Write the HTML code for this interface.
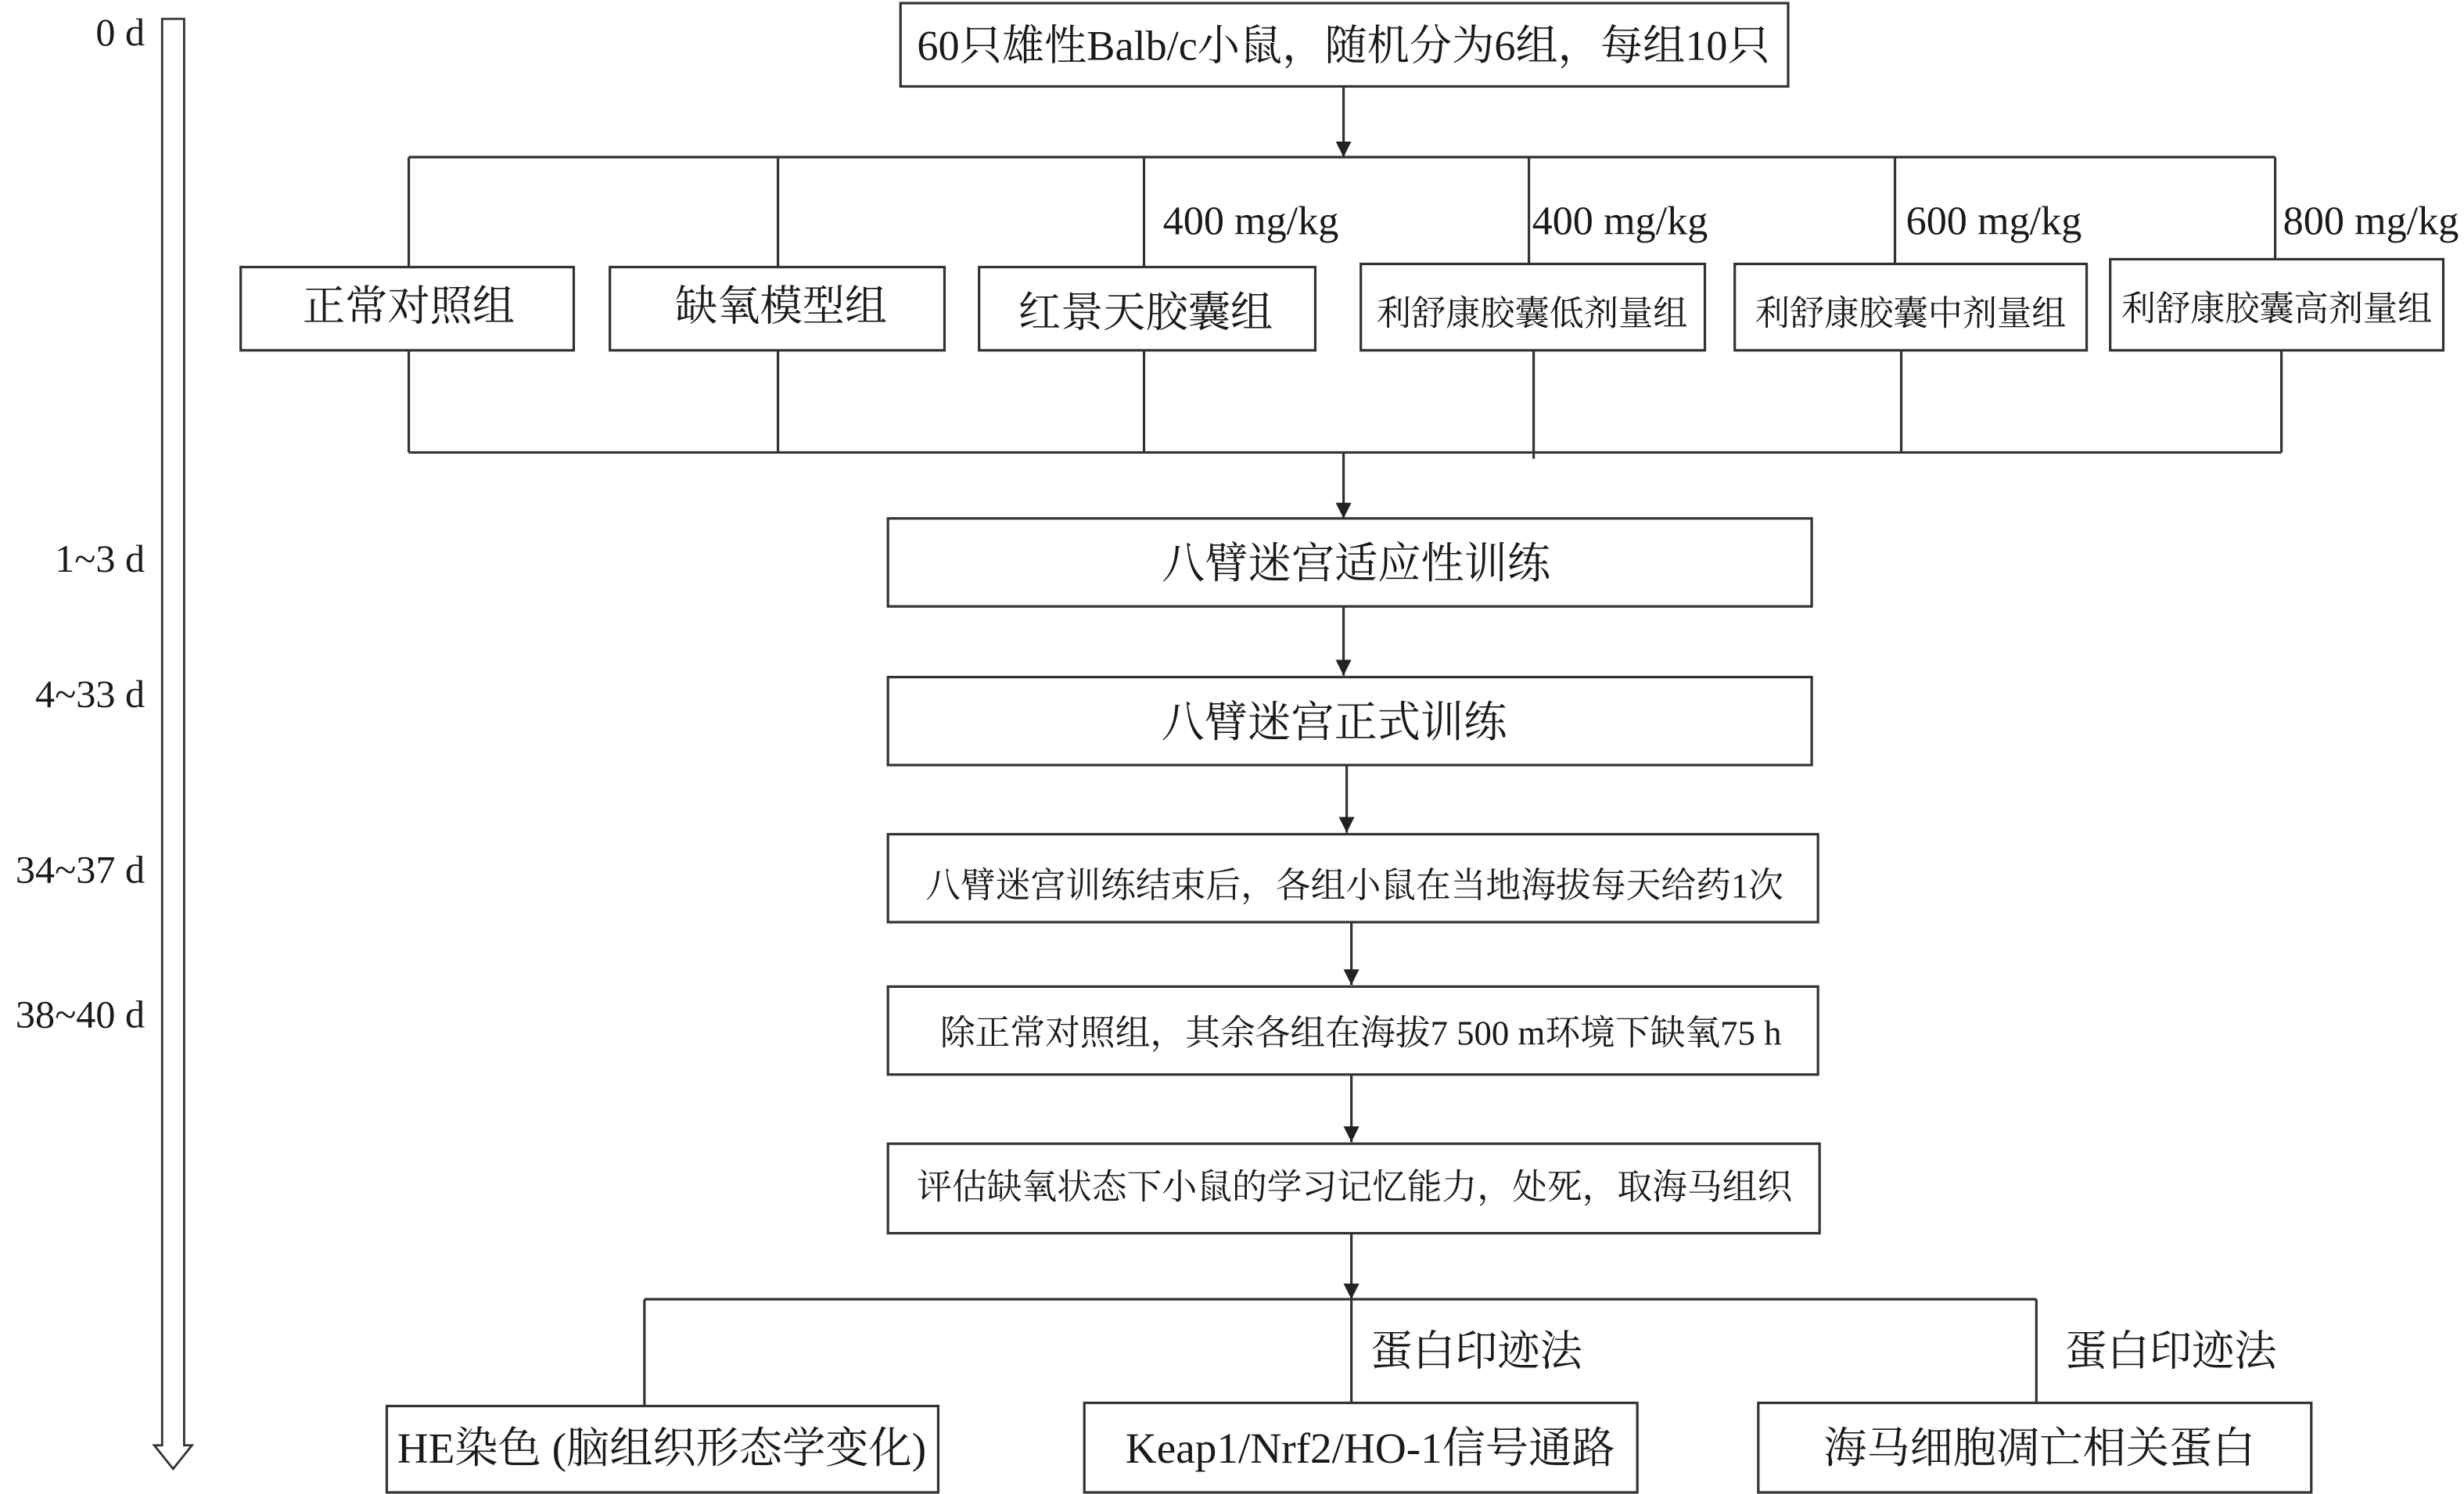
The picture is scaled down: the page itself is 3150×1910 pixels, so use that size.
<!DOCTYPE html>
<html><head><meta charset="utf-8"><style>
html,body{margin:0;padding:0;background:#fff;}
svg{display:block;}
text{font-family:"Liberation Serif","Noto Serif CJK SC",serif;fill:#1a1a1a;}
</style></head><body>
<svg width="3150" height="1910" viewBox="0 0 1568 951" xmlns="http://www.w3.org/2000/svg">
<defs><marker id="a" markerWidth="10" markerHeight="10" refX="10" refY="5" orient="auto" markerUnits="userSpaceOnUse"><path d="M0,0 L10,5 L0,10 Z" fill="#222"/></marker></defs>
<g stroke="#333" stroke-width="1.6" fill="none">
<path d="M103,12 L117,12 L117,920 L122,920 L110,935 L98,920 L103,920 Z" stroke-width="1.4"/>
<rect x="573" y="2" width="565" height="53"/>
<line x1="855" y1="55" x2="855" y2="100" marker-end="url(#a)"/>
<line x1="260" y1="100" x2="1448" y2="100"/>
<line x1="260" y1="100" x2="260" y2="170"/>
<line x1="495" y1="100" x2="495" y2="170"/>
<line x1="728" y1="100" x2="728" y2="170"/>
<line x1="973" y1="100" x2="973" y2="168"/>
<line x1="1206" y1="100" x2="1206" y2="168"/>
<line x1="1448" y1="100" x2="1448" y2="165"/>
<rect x="153" y="170" width="212" height="53"/>
<rect x="388" y="170" width="213" height="53"/>
<rect x="623" y="170" width="214" height="53"/>
<rect x="866" y="168" width="219" height="55"/>
<rect x="1104" y="168" width="224" height="55"/>
<rect x="1343" y="165" width="212" height="58"/>
<line x1="260" y1="223" x2="260" y2="288"/>
<line x1="495" y1="223" x2="495" y2="288"/>
<line x1="728" y1="223" x2="728" y2="288"/>
<line x1="976" y1="223" x2="976" y2="292"/>
<line x1="1210" y1="223" x2="1210" y2="288"/>
<line x1="1452" y1="223" x2="1452" y2="288"/>
<line x1="260" y1="288" x2="1452" y2="288"/>
<line x1="855" y1="288" x2="855" y2="330" marker-end="url(#a)"/>
<rect x="565" y="330" width="588" height="56"/>
<line x1="855" y1="386" x2="855" y2="430" marker-end="url(#a)"/>
<rect x="565" y="431" width="588" height="56"/>
<line x1="857" y1="487" x2="857" y2="530" marker-end="url(#a)"/>
<rect x="565" y="531" width="592" height="56"/>
<line x1="860" y1="587" x2="860" y2="627" marker-end="url(#a)"/>
<rect x="565" y="628" width="592" height="56"/>
<line x1="860" y1="684" x2="860" y2="727" marker-end="url(#a)"/>
<rect x="565" y="728" width="593" height="57"/>
<line x1="860" y1="785" x2="860" y2="827" marker-end="url(#a)"/>
<line x1="410" y1="827" x2="1296" y2="827"/>
<line x1="410" y1="827" x2="410" y2="895"/>
<line x1="860" y1="827" x2="860" y2="893"/>
<line x1="1296" y1="827" x2="1296" y2="893"/>
<rect x="246" y="895" width="351" height="55"/>
<rect x="690" y="893" width="352" height="57"/>
<rect x="1119" y="893" width="352" height="57"/>
</g>
<g font-size="25">
<text x="92" y="29" text-anchor="end">0 d</text>
<text x="92" y="364" text-anchor="end">1~3 d</text>
<text x="92" y="450" text-anchor="end">4~33 d</text>
<text x="92" y="562" text-anchor="end">34~37 d</text>
<text x="92" y="654" text-anchor="end">38~40 d</text>
</g>
<text x="855" y="38" font-size="27" text-anchor="middle">60只雄性Balb/c小鼠，随机分为6组，每组10只</text>
<g font-size="26">
<text x="740" y="149">400 mg/kg</text>
<text x="975" y="149">400 mg/kg</text>
<text x="1213" y="149">600 mg/kg</text>
<text x="1453" y="149">800 mg/kg</text>
</g>
<g font-size="27" text-anchor="middle">
<text x="260" y="204">正常对照组</text>
<text x="497" y="204">缺氧模型组</text>
<text x="729" y="208">红景天胶囊组</text>
</g>
<g font-size="22" text-anchor="middle">
<text x="975" y="207">利舒康胶囊低剂量组</text>
<text x="1216" y="207">利舒康胶囊中剂量组</text>
<text x="1449" y="204">利舒康胶囊高剂量组</text>
</g>
<g font-size="27.5" text-anchor="middle">
<text x="863" y="368">八臂迷宫适应性训练</text>
<text x="849" y="469">八臂迷宫正式训练</text>
</g>
<g font-size="22.3" text-anchor="middle">
<text x="862" y="571">八臂迷宫训练结束后，各组小鼠在当地海拔每天给药1次</text>
<text x="866" y="665">除正常对照组，其余各组在海拔7 500 m环境下缺氧75 h</text>
<text x="862" y="763">评估缺氧状态下小鼠的学习记忆能力，处死，取海马组织</text>
</g>
<g font-size="27">
<text x="872" y="869">蛋白印迹法</text>
<text x="1314" y="869">蛋白印迹法</text>
</g>
<g font-size="27.5" text-anchor="middle">
<text x="421" y="931">HE染色 (脑组织形态学变化)</text>
<text x="872" y="931">Keap1/Nrf2/HO-1信号通路</text>
<text x="1298" y="931">海马细胞凋亡相关蛋白</text>
</g>
</svg>
</body></html>
